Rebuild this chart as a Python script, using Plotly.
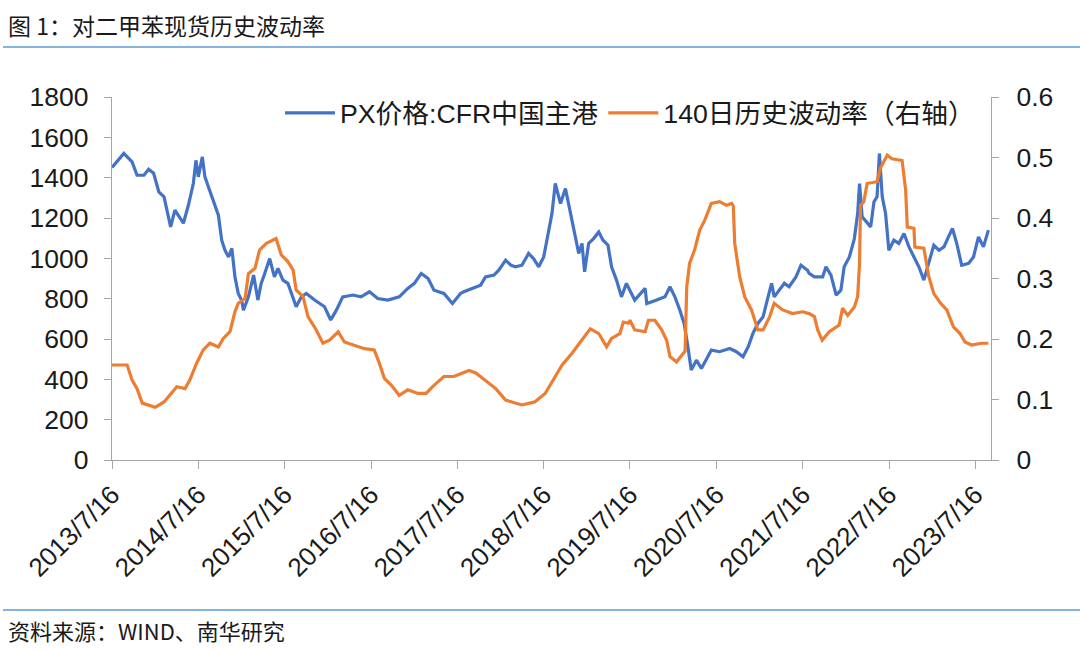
import plotly.graph_objects as go

# ---------------- data ----------------
px_dates = [
    "2013-07-16", "2013-09-04", "2013-10-09", "2013-10-30", "2013-11-28", "2013-12-18",
    "2014-01-08", "2014-01-30", "2014-02-21", "2014-03-06", "2014-03-21", "2014-04-08",
    "2014-05-14", "2014-06-04", "2014-06-25", "2014-07-06", "2014-07-16", "2014-08-02",
    "2014-08-13", "2014-08-28", "2014-09-18", "2014-10-09", "2014-10-23", "2014-11-06",
    "2014-11-21", "2014-12-05", "2014-12-18", "2015-01-01", "2015-01-15", "2015-01-23",
    "2015-02-13", "2015-03-07", "2015-03-25", "2015-04-08", "2015-04-23", "2015-05-14",
    "2015-06-03", "2015-06-18", "2015-07-09", "2015-07-30", "2015-09-03", "2015-09-25",
    "2015-10-16", "2015-11-20", "2016-01-01", "2016-01-27", "2016-02-20", "2016-03-18",
    "2016-04-30", "2016-06-03", "2016-07-09", "2016-08-13", "2016-09-25", "2016-11-12",
    "2016-12-18", "2017-01-15", "2017-02-13", "2017-03-14", "2017-04-08", "2017-05-20",
    "2017-06-25", "2017-07-08", "2017-07-29", "2017-08-12", "2017-09-18", "2017-10-22",
    "2017-11-12", "2017-12-18", "2018-01-07", "2018-02-05", "2018-02-27", "2018-03-18",
    "2018-04-15", "2018-05-13", "2018-06-03", "2018-06-25", "2018-07-16", "2018-08-05",
    "2018-08-20", "2018-09-03", "2018-09-25", "2018-10-16", "2018-11-05", "2018-11-27",
    "2018-12-11", "2018-12-25", "2019-01-05", "2019-01-22", "2019-02-12", "2019-03-06",
    "2019-03-24", "2019-04-14", "2019-04-29", "2019-05-20", "2019-06-10", "2019-07-01",
    "2019-07-22", "2019-08-05", "2019-09-18", "2019-09-25", "2019-11-06", "2019-12-11",
    "2020-01-01", "2020-01-22", "2020-02-12", "2020-03-01", "2020-03-17", "2020-03-31",
    "2020-04-22", "2020-05-13", "2020-06-09", "2020-06-24", "2020-07-29", "2020-09-10",
    "2020-10-08", "2020-11-05", "2020-11-27", "2020-12-17", "2021-01-07", "2021-01-29",
    "2021-02-19", "2021-03-06", "2021-03-17", "2021-04-07", "2021-04-29", "2021-05-19",
    "2021-06-17", "2021-07-08", "2021-08-05", "2021-08-12", "2021-09-03", "2021-10-08",
    "2021-10-22", "2021-11-12", "2021-12-04", "2021-12-24", "2022-01-07", "2022-01-29",
    "2022-02-19", "2022-03-05", "2022-03-13", "2022-03-24", "2022-04-14", "2022-04-29",
    "2022-05-13", "2022-05-26", "2022-06-05", "2022-06-17", "2022-07-01", "2022-07-15",
    "2022-08-05", "2022-08-26", "2022-09-17", "2022-10-08", "2022-10-29", "2022-11-19",
    "2022-12-10", "2022-12-31", "2023-01-21", "2023-02-12", "2023-03-05", "2023-03-24",
    "2023-04-10", "2023-04-28", "2023-05-19", "2023-06-17", "2023-07-08", "2023-07-29",
    "2023-08-19", "2023-09-09",
]
px_price = [
    1450, 1520, 1478, 1412, 1412, 1442,
    1422, 1330, 1305, 1239, 1156, 1239,
    1174, 1263, 1371, 1486, 1404, 1503,
    1404, 1354, 1280, 1214, 1090, 1040,
    1007, 1049, 908, 826, 793, 743,
    809, 917, 793, 876, 925, 999,
    908, 950, 892, 876, 760, 809,
    826, 793, 760, 694, 743, 809,
    818, 809, 834, 801, 793, 809,
    851, 876, 925, 900, 842, 826,
    776, 793, 826, 834, 851, 867,
    908, 917, 941, 991, 966, 958,
    966, 1024, 999, 958, 1007, 1140,
    1222, 1371, 1272, 1346, 1239, 1106,
    1024, 1074, 933, 1074, 1098, 1131,
    1090, 1065, 958, 892, 809, 876,
    826, 793, 851, 776, 793, 809,
    859, 809, 743, 677, 561, 446,
    495, 454, 512, 545, 537, 553,
    537, 512, 561, 628, 677, 710,
    809, 876, 809, 842, 876, 859,
    908, 966, 941, 925, 908, 908,
    958, 917, 818, 842, 958, 1007,
    1098, 1222, 1371, 1206, 1173, 1156,
    1280, 1305, 1520, 1305, 1222, 1040,
    1090, 1074, 1123, 1057, 1007, 958,
    892, 975, 1065, 1040, 1057, 1106,
    1148, 1074, 966, 975, 1007, 1106,
    1057, 1140,
]

vol_dates = [
    "2013-07-16", "2013-09-18", "2013-10-09", "2013-10-30", "2013-11-21", "2014-01-15",
    "2014-02-21", "2014-03-25", "2014-04-16", "2014-05-21", "2014-06-10", "2014-07-09",
    "2014-08-06", "2014-09-03", "2014-10-09", "2014-10-30", "2014-11-27", "2014-12-18",
    "2015-01-01", "2015-01-30", "2015-02-13", "2015-03-13", "2015-04-01", "2015-04-30",
    "2015-06-10", "2015-07-02", "2015-07-30", "2015-08-21", "2015-09-03", "2015-10-02",
    "2015-10-23", "2015-11-27", "2015-12-25", "2016-01-22", "2016-02-28", "2016-03-25",
    "2016-05-07", "2016-06-18", "2016-07-29", "2016-08-20", "2016-09-10", "2016-10-09",
    "2016-11-12", "2016-12-18", "2017-01-30", "2017-03-06", "2017-04-01", "2017-05-20",
    "2017-07-01", "2017-07-29", "2017-09-03", "2017-10-02", "2017-11-12", "2017-12-25",
    "2018-02-05", "2018-04-15", "2018-06-08", "2018-07-22", "2018-09-03", "2018-10-02",
    "2018-11-12", "2018-12-25", "2019-01-29", "2019-03-06", "2019-04-08", "2019-04-29",
    "2019-06-03", "2019-06-18", "2019-07-09", "2019-07-16", "2019-08-05", "2019-09-18",
    "2019-10-02", "2019-10-29", "2019-11-27", "2019-12-18", "2020-01-01", "2020-01-29",
    "2020-02-27", "2020-03-05", "2020-03-12", "2020-03-24", "2020-04-14", "2020-05-06",
    "2020-05-27", "2020-06-24", "2020-07-29", "2020-08-27", "2020-09-18", "2020-09-25",
    "2020-10-01", "2020-10-22", "2020-11-12", "2020-12-11", "2021-01-07", "2021-01-29",
    "2021-02-26", "2021-03-17", "2021-04-22", "2021-06-02", "2021-07-15", "2021-08-12",
    "2021-09-03", "2021-09-17", "2021-10-06", "2021-11-05", "2021-12-17", "2021-12-31",
    "2022-01-22", "2022-02-19", "2022-03-05", "2022-03-13", "2022-03-17", "2022-03-31",
    "2022-04-14", "2022-05-26", "2022-06-09", "2022-07-08", "2022-07-28", "2022-09-09",
    "2022-09-24", "2022-10-01", "2022-10-29", "2022-11-02", "2022-12-10", "2022-12-31",
    "2023-01-21", "2023-02-19", "2023-03-17", "2023-04-14", "2023-05-12", "2023-06-02",
    "2023-06-30", "2023-08-11", "2023-09-09",
]
vol_value = [
    0.157, 0.157, 0.132, 0.118, 0.094, 0.087,
    0.096, 0.110, 0.121, 0.118, 0.132, 0.160,
    0.182, 0.193, 0.187, 0.201, 0.212, 0.245,
    0.259, 0.267, 0.308, 0.317, 0.347, 0.358,
    0.366, 0.339, 0.328, 0.314, 0.281, 0.270,
    0.237, 0.215, 0.193, 0.198, 0.212, 0.195,
    0.190, 0.184, 0.182, 0.160, 0.135, 0.124,
    0.107, 0.116, 0.110, 0.110, 0.121, 0.138,
    0.138, 0.143, 0.148, 0.144, 0.132, 0.118,
    0.099, 0.091, 0.096, 0.110, 0.138, 0.157,
    0.176, 0.198, 0.217, 0.209, 0.187, 0.201,
    0.209, 0.228, 0.226, 0.231, 0.215, 0.212,
    0.231, 0.231, 0.215, 0.198, 0.171, 0.162,
    0.176, 0.180, 0.286, 0.325, 0.347, 0.380,
    0.396, 0.424, 0.427, 0.421, 0.424, 0.420,
    0.358, 0.303, 0.270, 0.248, 0.215, 0.215,
    0.237, 0.259, 0.248, 0.242, 0.245, 0.242,
    0.237, 0.215, 0.198, 0.212, 0.223, 0.251,
    0.239, 0.253, 0.270, 0.325, 0.421, 0.427,
    0.457, 0.460, 0.482, 0.504, 0.498, 0.495,
    0.446, 0.385, 0.383, 0.352, 0.350, 0.303,
    0.275, 0.259, 0.248, 0.220, 0.209, 0.195,
    0.190, 0.193, 0.193,
]

x_tick_dates = ["2013-07-16", "2014-07-16", "2015-07-16", "2016-07-16", "2017-07-16",
                "2018-07-16", "2019-07-16", "2020-07-16", "2021-07-16", "2022-07-16",
                "2023-07-16"]
x_tick_labels = ["2013/7/16", "2014/7/16", "2015/7/16", "2016/7/16", "2017/7/16",
                 "2018/7/16", "2019/7/16", "2020/7/16", "2021/7/16", "2022/7/16",
                 "2023/7/16"]
x_range = ["2013-07-16", "2023-09-20"]

name_px = "PX价格:CFR中国主港"
name_vol = "140日历史波动率（右轴）"
title_text = "图 1：对二甲苯现货历史波动率"
source_text = "资料来源：WIND、南华研究"

# ---------------- figure ----------------
FONT = "Liberation Sans, Arial, Noto Sans CJK SC, sans-serif"
CJK = "Noto Sans CJK SC, Liberation Sans, sans-serif"
AXIS_GREY = "#A6A6A6"
TXT = "#1a1a1a"

fig = go.Figure()
fig.add_trace(go.Scatter(x=px_dates, y=px_price, name=name_px, mode="lines",
                         line=dict(color="#4472C4", width=3.2), yaxis="y"))
fig.add_trace(go.Scatter(x=vol_dates, y=vol_value, name=name_vol, mode="lines",
                         line=dict(color="#ED7D31", width=3.2), yaxis="y2"))

L, R, T, B = 112, 991, 97, 460
W, H = R - L, B - T

def xp(px):
    return (px - L) / W

def yp(py):
    return (B - py) / H

tick_font = dict(size=26.5, family=FONT, color=TXT)

fig.update_layout(
    width=1080, height=651,
    margin=dict(l=L, r=1080 - R, t=T, b=651 - B, autoexpand=False),
    paper_bgcolor="white", plot_bgcolor="white",
    font=dict(family=FONT, size=25, color=TXT),
    showlegend=True,
    legend=dict(orientation="h", x=xp(280), y=yp(89), xanchor="left", yanchor="top",
                font=dict(family=FONT, size=26.7, color=TXT),
                bgcolor="rgba(0,0,0,0)", itemwidth=50, tracegroupgap=0),
    xaxis=dict(type="date", range=x_range, tickmode="array",
               tickvals=x_tick_dates, ticktext=x_tick_labels, tickangle=-45,
               showgrid=False, zeroline=False, showline=True, linecolor=AXIS_GREY,
               linewidth=1.3, ticks="outside", ticklen=8, tickcolor=AXIS_GREY,
               tickwidth=1.3, tickfont=dict(size=26, family=FONT, color=TXT)),
    yaxis=dict(range=[0, 1800], dtick=200, showgrid=False, zeroline=False,
               showline=True, linecolor=AXIS_GREY, linewidth=1.3, ticks="outside",
               ticklen=7, tickcolor=AXIS_GREY, tickwidth=1.3, ticklabelstandoff=10,
               tickfont=tick_font),
    yaxis2=dict(range=[0, 0.6], dtick=0.1, overlaying="y", side="right",
                showgrid=False, zeroline=False, showline=True, linecolor=AXIS_GREY,
                linewidth=1.3, ticks="outside", ticklen=7, tickcolor=AXIS_GREY,
                tickwidth=1.3, ticklabelstandoff=12, tickfont=tick_font),
)

# header / footer
fig.add_annotation(text=title_text, xref="paper", yref="paper", x=xp(6), y=yp(25),
                   xanchor="left", yanchor="middle", showarrow=False,
                   font=dict(family=CJK, size=23, color=TXT))
fig.add_annotation(text=source_text, xref="paper", yref="paper", x=xp(6), y=yp(630),
                   xanchor="left", yanchor="middle", showarrow=False,
                   font=dict(family=CJK, size=22, color=TXT))
fig.add_shape(type="line", xref="paper", yref="paper", x0=xp(3), x1=xp(1080),
              y0=yp(47), y1=yp(47), line=dict(color="#5B9BD5", width=1.6))
fig.add_shape(type="line", xref="paper", yref="paper", x0=xp(3), x1=xp(1080),
              y0=yp(610), y1=yp(610), line=dict(color="#5B9BD5", width=1.6))

fig.write_html("out.html",
               config={"displayModeBar": False},
               post_script="document.body.style.margin='0';document.body.style.padding='0';")
